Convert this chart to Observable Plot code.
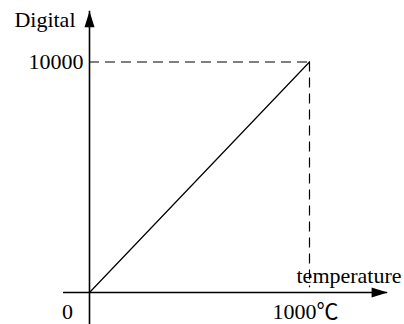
<!DOCTYPE html>
<html>
<head>
<meta charset="utf-8">
<script src="https://cdn.jsdelivr.net/npm/d3@7"></script>
<script src="https://cdn.jsdelivr.net/npm/@observablehq/plot@0.6"></script>
<style>
  html, body { margin: 0; padding: 0; background: #fff; }
  #chart { width: 404px; height: 324px; }
  #chart svg text { font-family: "Liberation Serif", "Times New Roman", Times, "Noto Sans CJK SC", serif !important; }
</style>
</head>
<body>
<div id="chart"></div>
<script>
// Data
const temperature = [0, 1000];          // °C
const digital = [0, 10000];             // digital output
const guideTop = [10000];               // horizontal guide value
const guideRight = [1000];              // vertical guide value
const guideBottom = [210];              // where the vertical guide stops
const xTickLabels = ["0", "1000℃"];
const yTickLabels = ["10000"];
const xAxisExtent = [-118, 1355];
const yAxisExtent = [-1400, 12200];
const xTitle = "temperature";
const yTitle = "Digital";

const line = temperature.map((t, i) => ({t, d: digital[i]}));

const arrowRight = {draw(ctx) { ctx.moveTo(0, 0); ctx.lineTo(-16, -5); ctx.lineTo(-16, 5); ctx.closePath(); }};
const arrowUp = {draw(ctx) { ctx.moveTo(0, 0); ctx.lineTo(-5, 16); ctx.lineTo(5, 16); ctx.closePath(); }};

const font = "Liberation Serif, Times New Roman, Times, Noto Sans CJK SC, serif";
const fs = 22;
const txt = {fill: "#000", fontFamily: font, fontSize: fs};

const chart = Plot.plot({
  width: 404,
  height: 324,
  x: {domain: [0, 1000], range: [89, 309], axis: null},
  y: {domain: [0, 10000], range: [292, 61.5], axis: null},
  style: {fontFamily: font, fontSize: fs + "px", background: "#fff", color: "#000"},
  marks: [
    // dashed guides
    Plot.ruleY(guideTop, {x1: temperature[0], x2: guideRight[0], stroke: "#000", strokeWidth: 1.2, strokeDasharray: "10,6"}),
    Plot.ruleX(guideRight, {y1: guideTop[0], y2: guideBottom[0], stroke: "#000", strokeWidth: 1.2, strokeDasharray: "10,6"}),
    // axes
    Plot.ruleY([0], {x1: xAxisExtent[0], x2: xAxisExtent[1], stroke: "#000", strokeWidth: 1.6}),
    Plot.ruleX([0], {y1: yAxisExtent[0], y2: yAxisExtent[1], stroke: "#000", strokeWidth: 1.6}),
    Plot.dot([xAxisExtent[1]], {x: d => d, y: 0, symbol: arrowRight, fill: "#000", stroke: null}),
    Plot.dot([yAxisExtent[1]], {x: 0, y: d => d, symbol: arrowUp, fill: "#000", stroke: null}),
    // data line
    Plot.line(line, {x: "t", y: "d", stroke: "#000", strokeWidth: 1.2}),
    // tick labels
    Plot.text(yTickLabels, {x: 0, y: guideTop[0], text: d => d, textAnchor: "end", dx: -6, ...txt}),
    Plot.text([xTickLabels[0]], {x: temperature[0], y: 0, text: d => d, textAnchor: "middle", dx: -22, dy: 19, ...txt}),
    Plot.text([xTickLabels[1]], {x: temperature[1], y: 0, text: d => d, textAnchor: "start", dx: -37, dy: 19, ...txt}),
    // axis titles
    Plot.text([yTitle], {x: 0, y: yAxisExtent[1], text: d => d, textAnchor: "end", dx: -14, dy: 9, ...txt}),
    Plot.text([xTitle], {x: guideRight[0], y: 0, text: d => d, textAnchor: "start", dx: -13, dy: -17, ...txt})
  ]
});
document.getElementById("chart").appendChild(chart);
</script>
</body>
</html>
